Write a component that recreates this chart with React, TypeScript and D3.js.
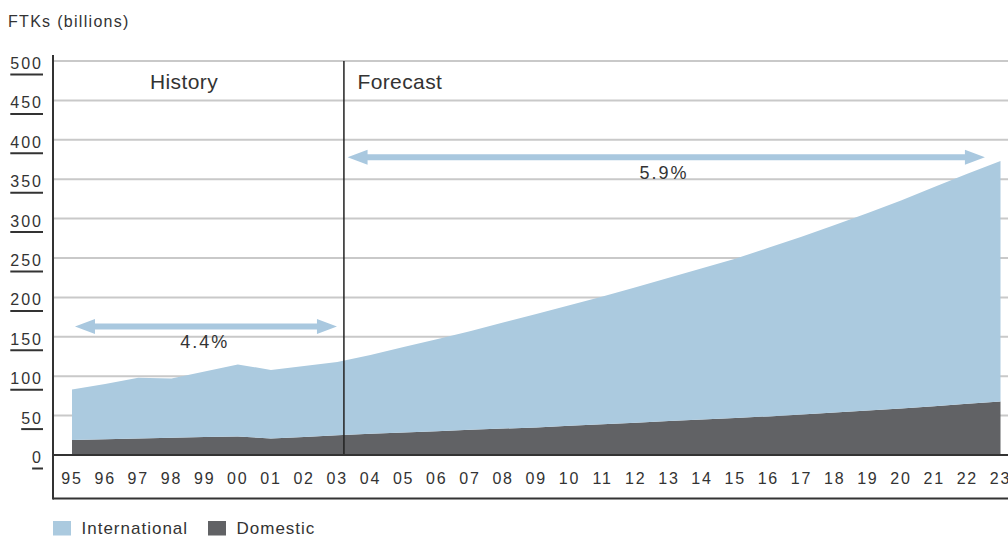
import React from "react";
import * as d3 from "d3";

const years = [
  1995, 1996, 1997, 1998, 1999, 2000, 2001, 2002, 2003, 2004, 2005, 2006, 2007, 2008, 2009,
  2010, 2011, 2012, 2013, 2014, 2015, 2016, 2017, 2018, 2019, 2020, 2021, 2022, 2023,
];
const yearLabels = [
  "95", "96", "97", "98", "99", "00", "01", "02", "03", "04", "05", "06", "07", "08", "09",
  "10", "11", "12", "13", "14", "15", "16", "17", "18", "19", "20", "21", "22", "23",
];
const domestic = [
  19, 20, 21, 22, 23, 23.5, 21, 23, 25, 27, 28.5, 30, 32, 33.5, 35, 37, 39, 41, 43, 45, 47, 49,
  51.5, 54, 56.5, 59, 62, 65, 68,
];
const international = [
  64, 70, 77, 75, 83, 91.5, 87, 90, 93, 100, 108.5, 117, 125, 134.5, 144, 153, 162, 172, 182,
  192, 202, 214, 225.5, 238, 250.5, 264, 278, 292, 305,
];
const yTicks = [0, 50, 100, 150, 200, 250, 300, 350, 400, 450, 500];
const seriesNames = ["International", "Domestic"];
const colors = { International: "#abcadf", Domestic: "#616265" };
const arrows = [
  { from: 1995.09, to: 2002.99, value: 163, label: "4.4%", labelYear: 1999.0, labelValue: 135 },
  { from: 2003.31, to: 2022.53, value: 378, label: "5.9%", labelYear: 2012.85, labelValue: 348 },
];
const dividerYear = 2003.2;

const W = 1008;
const H = 537;
const FONT = "'Liberation Sans', Arial, Helvetica, sans-serif";
const TXT = "#333";

export default function App() {
  const x = d3.scaleLinear().domain([1995, 2023]).range([72, 1000.5]);
  const y = d3.scaleLinear().domain([0, 500]).range([455, 61]);

  const rows = years.map((yr, i) => ({ year: yr, Domestic: domestic[i], International: international[i] }));
  const stack = d3.stack<any>().keys(["Domestic", "International"]);
  const layers = stack(rows);
  const area = d3
    .area<any>()
    .x((d) => x(d.data.year))
    .y0((d) => y(d[0]))
    .y1((d) => y(d[1]));

  const axisLeft = 53;
  const right = W;
  const arrowPath = (x1: number, x2: number, yy: number) => {
    const hl = 20;
    const hh = 7.5;
    const sw = 3;
    return [
      `M${x1},${yy}`,
      `L${x1 + hl},${yy - hh}`,
      `L${x1 + hl},${yy - sw}`,
      `L${x2 - hl},${yy - sw}`,
      `L${x2 - hl},${yy - hh}`,
      `L${x2},${yy}`,
      `L${x2 - hl},${yy + hh}`,
      `L${x2 - hl},${yy + sw}`,
      `L${x1 + hl},${yy + sw}`,
      `L${x1 + hl},${yy + hh}`,
      "Z",
    ].join(" ");
  };

  return (
    <svg
      width={W}
      height={H}
      style={{ position: "absolute", left: 0, top: 0, background: "#fff" }}
      fontFamily={FONT}
    >
      <text x={8} y={26.5} fontSize={16} letterSpacing={1.3} fill={TXT}>
        FTKs (billions)
      </text>

      {/* gridlines */}
      {yTicks.filter((t) => t > 0).map((t) => (
        <line key={t} x1={axisLeft + 1} x2={right} y1={y(t)} y2={y(t)} stroke="#c9c9c9" strokeWidth={2} />
      ))}

      {/* areas */}
      {layers.map((layer) => (
        <path key={layer.key} d={area(layer) || ""} fill={(colors as any)[layer.key]} />
      ))}

      {/* divider */}
      <line x1={x(dividerYear)} x2={x(dividerYear)} y1={y(500)} y2={y(0)} stroke="#222" strokeWidth={1.5} />

      {/* baseline & frame */}
      <line x1={axisLeft} x2={right} y1={y(0)} y2={y(0)} stroke="#333" strokeWidth={2} />
      <line x1={axisLeft} x2={right} y1={498.5} y2={498.5} stroke="#333" strokeWidth={2} />
      <line x1={axisLeft} x2={axisLeft} y1={55} y2={499.5} stroke="#333" strokeWidth={2} />

      {/* y tick labels with underline */}
      {yTicks.map((t) => {
        const label = String(t);
        const w = label.length * 8.9 + (label.length - 1) * 2 + 2;
        return (
          <g key={t}>
            <text x={43} y={y(t) + 8} fontSize={16} letterSpacing={2} textAnchor="end" fill={TXT}>
              {label}
            </text>
            <line x1={43 - w} x2={43} y1={y(t) + 13.5} y2={y(t) + 13.5} stroke="#333" strokeWidth={2} />
          </g>
        );
      })}

      {/* x labels */}
      {years.map((yr, i) => (
        <text key={yr} x={x(yr)} y={484} fontSize={16} letterSpacing={1.8} textAnchor="middle" fill={TXT}>
          {yearLabels[i]}
        </text>
      ))}

      {/* period labels */}
      <text x={x(1997.35)} y={89} fontSize={21} letterSpacing={0.4} fill={TXT}>
        History
      </text>
      <text x={x(dividerYear) + 13.5} y={89} fontSize={21} letterSpacing={0.4} fill={TXT}>
        Forecast
      </text>

      {/* growth arrows */}
      {arrows.map((a) => (
        <g key={a.label}>
          <path d={arrowPath(x(a.from), x(a.to), y(a.value))} fill="#a9c8df" />
          <text
            x={x(a.labelYear)}
            y={y(a.value) + 21.5}
            fontSize={18}
            letterSpacing={2}
            textAnchor="middle"
            fill={TXT}
          >
            {a.label}
          </text>
        </g>
      ))}

      {/* legend */}
      {seriesNames.map((name, i) => {
        const lx = i === 0 ? 53 : 208;
        return (
          <g key={name}>
            <rect x={lx} y={521} width={18} height={14.5} fill={(colors as any)[name]} />
            <text x={lx + 28.5} y={534} fontSize={17} letterSpacing={1} fill={TXT}>
              {name}
            </text>
          </g>
        );
      })}
    </svg>
  );
}
